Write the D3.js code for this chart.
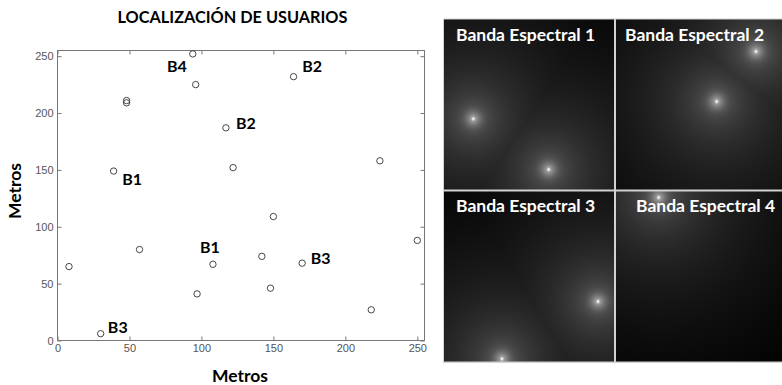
<!DOCTYPE html>
<html>
<head>
<meta charset="utf-8">
<script src="https://cdn.jsdelivr.net/npm/d3@7"></script>
<style>
  body { margin: 0; background: #fff; }
  svg { display: block; }
  .tick text { font-family: "Liberation Sans", Arial, sans-serif; font-size: 11px; }
  .bold { font-family: Lato, "Open Sans", sans-serif; font-weight: bold; }
</style>
</head>
<body>
<svg id="chart" width="782" height="385"></svg>
<script>
// user positions (metres)
const userX = [8, 30, 39, 48, 48, 57, 94, 96, 97, 108, 117, 122, 142, 148, 150, 164, 170, 218, 224, 250];
const userY = [65, 6, 149, 211, 209, 80, 252, 225, 41, 67, 187, 152, 74, 46, 109, 232, 68, 27, 158, 88];

// base-station tags on the scatter
const tagText = ['B4', 'B2', 'B2', 'B1', 'B1', 'B3', 'B3'];
const tagX = [76, 170, 124, 45, 99, 176, 35];
const tagY = [236, 236, 186, 137, 77, 67, 7];

const xTicks = [0, 50, 100, 150, 200, 250];
const yTicks = [0, 50, 100, 150, 200, 250];

// spectral band maps: station positions (metres) per band
const bandNames = ['Banda Espectral 1', 'Banda Espectral 2', 'Banda Espectral 3', 'Banda Espectral 4'];
const bandX = [[44, 157], [210, 151], [231, 87], [64]];
const bandY = [[106, 30], [207, 132], [90, 4], [246]];

const svg = d3.select('#chart');

// ---------- scatter ----------
const plotLeft = 57.5, plotRight = 424.5, plotTop = 50.5, plotBottom = 340.5;
const x = d3.scaleLinear().domain([0, 255]).range([plotLeft, plotRight]);
const y = d3.scaleLinear().domain([0, 255]).range([plotBottom, plotTop]);

function addAxis(a, transform, labels) {
  const g = svg.append('g')
    .attr('transform', transform)
    .call(a.tickSizeInner(-4).tickSizeOuter(0).tickPadding(4));
  if (!labels) g.selectAll('text').remove();
  g.selectAll('text').attr('fill', '#555');
  g.selectAll('line').attr('stroke', '#777');
  g.select('.domain').remove();
  return g;
}

addAxis(d3.axisBottom(x).tickValues(xTicks), `translate(0,${plotBottom})`, true);
addAxis(d3.axisTop(x).tickValues(xTicks).tickFormat(''), `translate(0,${plotTop})`, false);
addAxis(d3.axisLeft(y).tickValues(yTicks), `translate(${plotLeft},0)`, true);
addAxis(d3.axisRight(y).tickValues(yTicks).tickFormat(''), `translate(${plotRight},0)`, false);

svg.append('rect')
   .attr('x', plotLeft).attr('y', plotTop)
   .attr('width', plotRight - plotLeft).attr('height', plotBottom - plotTop)
   .attr('fill', 'none').attr('stroke', '#777');

svg.append('g')
   .selectAll('circle')
   .data(userX)
   .enter()
   .append('circle')
   .attr('cx', (d) => x(d))
   .attr('cy', (d, i) => y(userY[i]))
   .attr('r', 3.2)
   .attr('fill', 'none')
   .attr('stroke', '#333')
   .attr('stroke-width', 0.9);

svg.append('g')
   .selectAll('text')
   .data(tagText)
   .enter()
   .append('text')
   .attr('class', 'bold')
   .attr('x', (d, i) => x(tagX[i]))
   .attr('y', (d, i) => y(tagY[i]))
   .attr('font-size', 16)
   .text((d) => d);

svg.append('text')
   .attr('class', 'bold')
   .attr('x', 232.5).attr('y', 22.7)
   .attr('text-anchor', 'middle')
   .attr('font-size', 16.3)
   .text('LOCALIZACIÓN DE USUARIOS');

svg.append('text')
   .attr('class', 'bold')
   .attr('x', 240).attr('y', 382)
   .attr('text-anchor', 'middle')
   .attr('font-size', 17.5)
   .text('Metros');

svg.append('text')
   .attr('class', 'bold')
   .attr('transform', 'translate(21,191) rotate(-90)')
   .attr('text-anchor', 'middle')
   .attr('font-size', 17.5)
   .text('Metros');

// ---------- spectral band maps ----------
const size = 170;
const panels = [
  { x: 444, y: 19.5, tx: 12, ty: 21 },
  { x: 616, y: 19.5, tx: 9, ty: 21 },
  { x: 444, y: 191.5, tx: 12, ty: 20 },
  { x: 616, y: 191.5, tx: 20, ty: 20 }
];

svg.append('rect')
   .attr('x', 443).attr('y', 18.5)
   .attr('width', 340).attr('height', 344.5)
   .attr('fill', '#d2d2d2');

const hx = d3.scaleLinear().domain([0, 255]).range([0, size]);
const hy = d3.scaleLinear().domain([0, 255]).range([size, 0]);
// log-distance falloff mapped to grey, plus a soft halo and bright core at each station
const r0 = 1.5, dMax = 345;
const gray = d3.scaleLinear().domain([0, 1]).range([0, 145]).clamp(true);

panels.forEach((p, b) => {
  const canvas = document.createElement('canvas');
  canvas.width = size;
  canvas.height = size;
  const ctx = canvas.getContext('2d');
  const img = ctx.createImageData(size, size);
  for (let j = 0; j < size; j++) {
    for (let i = 0; i < size; i++) {
      const mx = hx.invert(i + 0.5), my = hy.invert(j + 0.5);
      let d = Infinity;
      bandX[b].forEach((sx, k) => {
        d = Math.min(d, Math.hypot(mx - sx, my - bandY[b][k]));
      });
      const t = 1 - Math.log(1 + d / r0) / Math.log(1 + dMax / r0);
      const dp = hx(d);
      const halo = 45 * Math.exp(-(dp * dp) / 60);
      const core = 90 * Math.exp(-(dp * dp) / 2);
      const v = Math.min(255, Math.round(gray(t) + halo + core));
      const o = (j * size + i) * 4;
      img.data[o] = v; img.data[o + 1] = v; img.data[o + 2] = v; img.data[o + 3] = 255;
    }
  }
  ctx.putImageData(img, 0, 0);

  const g = svg.append('g').attr('transform', `translate(${p.x},${p.y})`);
  g.append('image')
   .attr('width', size).attr('height', size)
   .attr('href', canvas.toDataURL());
  g.append('text')
   .attr('class', 'bold')
   .attr('x', p.tx).attr('y', p.ty)
   .attr('font-size', 17.5)
   .attr('fill', '#fff')
   .text(bandNames[b]);
});
</script>
</body>
</html>
